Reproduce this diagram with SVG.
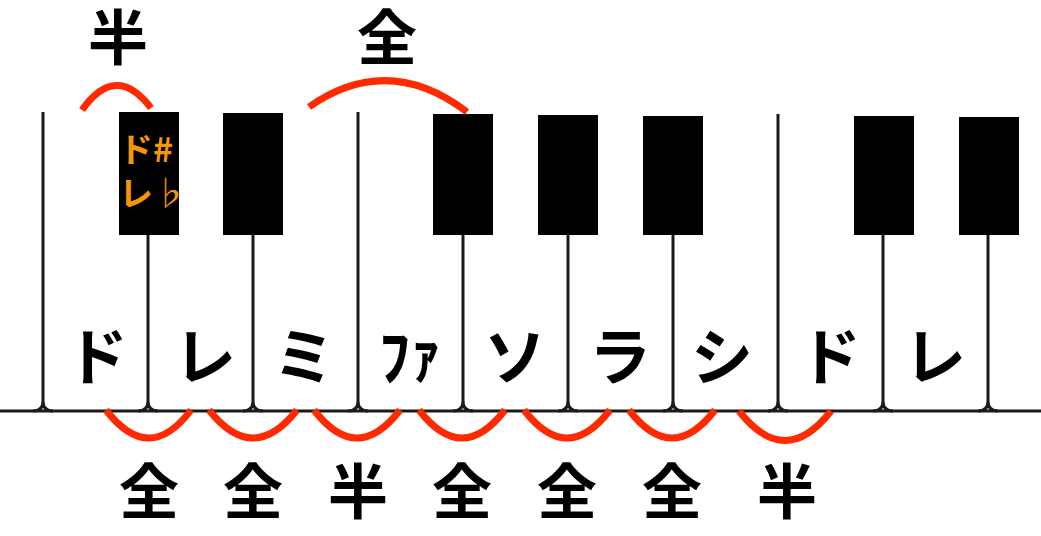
<svg xmlns="http://www.w3.org/2000/svg" width="1041" height="536" viewBox="0 0 1041 536">
<style>
.div{stroke:#1a1a1a;stroke-width:3;fill:none}
.blk{fill:#000}
.arc{stroke:#ff2a00;stroke-width:7;fill:none}
.lab{font-family:"Noto Sans CJK JP","Noto Sans",sans-serif;font-weight:bold;font-size:60px;fill:#000;text-anchor:middle}
.key{font-family:"Noto Sans CJK JP","Noto Sans",sans-serif;font-weight:bold;font-size:62px;fill:#000;text-anchor:middle}
.acc{font-family:"Noto Sans CJK JP","Noto Sans",sans-serif;font-weight:bold;font-size:34px;fill:#f39800}
</style>
<rect width="1041" height="536" fill="#fff"/>
<g id="keyboard">
<path class="div" d="M0 411 H1041"/>
<path class="div" d="M43 112 V401 Q43 411 33 411 M43 401 Q43 411 53 411"/>
<path class="div" d="M148 235 V401 Q148 411 138 411 M148 401 Q148 411 158 411"/>
<path class="div" d="M253 235 V401 Q253 411 243 411 M253 401 Q253 411 263 411"/>
<path class="div" d="M358 112 V401 Q358 411 348 411 M358 401 Q358 411 368 411"/>
<path class="div" d="M463 235 V401 Q463 411 453 411 M463 401 Q463 411 473 411"/>
<path class="div" d="M568 235 V401 Q568 411 558 411 M568 401 Q568 411 578 411"/>
<path class="div" d="M673 235 V401 Q673 411 663 411 M673 401 Q673 411 683 411"/>
<path class="div" d="M778 114 V401 Q778 411 768 411 M778 401 Q778 411 788 411"/>
<path class="div" d="M883 235 V401 Q883 411 873 411 M883 401 Q883 411 893 411"/>
<path class="div" d="M988 235 V401 Q988 411 978 411 M988 401 Q988 411 998 411"/>
</g>
<g id="black-keys">
<rect class="blk" x="119" y="112" width="60" height="123"/>
<rect class="blk" x="223" y="113" width="60" height="122"/>
<rect class="blk" x="433" y="114" width="60" height="121"/>
<rect class="blk" x="538" y="115" width="60" height="120"/>
<rect class="blk" x="643" y="116" width="60" height="119"/>
<rect class="blk" x="854" y="116" width="60" height="119"/>
<rect class="blk" x="959" y="117" width="60" height="118"/>
</g>
<g id="cs-label">
<text class="acc" x="119" y="162">ド#</text>
<text class="acc" x="119" y="206">レ<tspan font-weight="normal">♭</tspan></text>
</g>
<g id="key-names">
<text class="key" x="97" y="380">ド</text>
<text class="key" x="205" y="380">レ</text>
<text class="key" x="304" y="380">ミ</text>
<text class="key" x="410" y="380">ﾌｧ</text>
<text class="key" x="515" y="380">ソ</text>
<text class="key" x="620" y="380">ラ</text>
<text class="key" x="722" y="380">シ</text>
<text class="key" x="830" y="380">ド</text>
<text class="key" x="935" y="380">レ</text>
</g>
<g id="connectors">
<path class="arc" d="M82 110 Q116 62 151 108"/>
<path class="arc" d="M309 107 Q388 52 467 112"/>
<path class="arc" d="M106 410 Q149 466 191 410"/>
<path class="arc" d="M209 410 Q253 466 297 410"/>
<path class="arc" d="M314 410 Q357 466 400 410"/>
<path class="arc" d="M419 410 Q462 466 505 410"/>
<path class="arc" d="M524 410 Q567 466 610 410"/>
<path class="arc" d="M629 410 Q672 466 715 410"/>
<path class="arc" d="M739 411 Q785 470 831 411"/>
</g>
<g id="step-labels">
<text class="lab" x="118" y="60">半</text>
<text class="lab" x="387" y="60">全</text>
<text class="lab" x="149" y="514">全</text>
<text class="lab" x="253" y="514">全</text>
<text class="lab" x="358" y="514">半</text>
<text class="lab" x="462" y="514">全</text>
<text class="lab" x="567" y="514">全</text>
<text class="lab" x="672" y="514">全</text>
<text class="lab" x="787" y="514">半</text>
</g>
</svg>
